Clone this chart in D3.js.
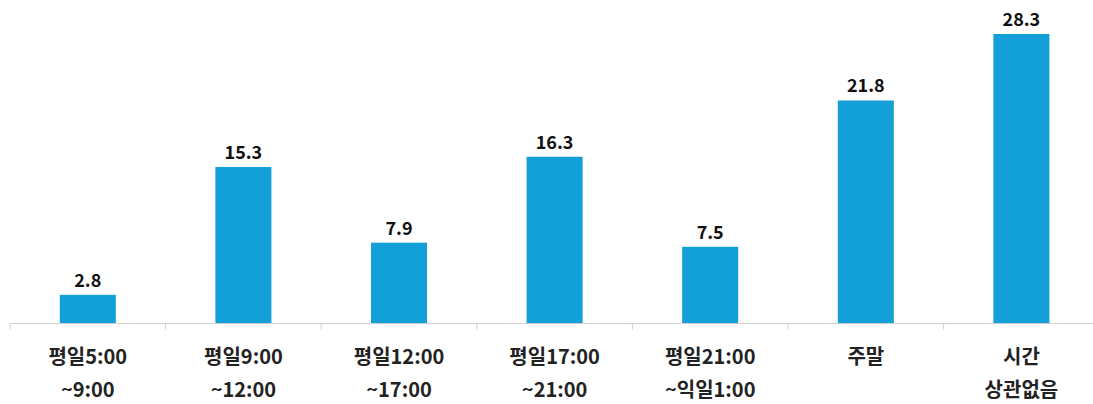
<!DOCTYPE html>
<html><head><meta charset="utf-8">
<script src="https://cdn.jsdelivr.net/npm/d3@7"></script>
<style>body{margin:0;background:#fff}svg{display:block}</style>
</head><body>
<svg id="c" width="1093" height="404"></svg>
<script>
const categories = ["평일5:00|~9:00","평일9:00|~12:00","평일12:00|~17:00","평일17:00|~21:00","평일21:00|~익일1:00","주말","시간|상관없음"];
const values = [2.8, 15.3, 7.9, 16.3, 7.5, 21.8, 28.3];
const valueLabels = ["2.8","15.3","7.9","16.3","7.5","21.8","28.3"];

const svg = d3.select("#c");
const baseY = 323.5;
const x = d3.scaleBand().domain(categories).range([10, 10 + 155.6*7]).paddingInner(0.64).paddingOuter(0.32);
const y = d3.scaleLinear().domain([0, 28.3]).range([baseY, 34]);
const font = "'Noto Sans CJK KR','Malgun Gothic',sans-serif";

// bars
svg.selectAll("rect.bar").data(values).join("rect")
  .attr("class","bar")
  .attr("x",(d,i)=>x(categories[i]))
  .attr("width",x.bandwidth())
  .attr("y",d=>y(d))
  .attr("height",d=>baseY-y(d))
  .attr("fill","#139fd7");

// axis
const step = x.step();
const axisG = svg.append("g");
axisG.append("line").attr("x1",10).attr("x2",1093).attr("y1",baseY).attr("y2",baseY)
  .attr("stroke","#d0d0d0").attr("stroke-width",1.2);
d3.range(8).forEach(k=>{
  const tx = 10 + step*k;
  axisG.append("line").attr("x1",tx).attr("x2",tx).attr("y1",baseY).attr("y2",baseY+6)
    .attr("stroke","#d0d0d0").attr("stroke-width",1);
});

// value labels
svg.selectAll("text.val").data(values).join("text")
  .attr("class","val")
  .attr("x",(d,i)=>x(categories[i])+x.bandwidth()/2)
  .attr("y",d=>y(d)-8)
  .attr("text-anchor","middle")
  .attr("font-family",font).attr("font-weight","bold").attr("font-size",18)
  .attr("fill","#111")
  .text((d,i)=>valueLabels[i]);

// category labels
categories.forEach((c,i)=>{
  const lines = c.split("|");
  const t = svg.append("text")
    .attr("x",x(c)+x.bandwidth()/2)
    .attr("text-anchor","middle")
    .attr("font-family",font).attr("font-weight","bold").attr("font-size",20)
    .attr("fill","#222");
  lines.forEach((l,j)=>{
    t.append("tspan").attr("x",x(c)+x.bandwidth()/2).attr("y",364+j*33).text(l);
  });
});
</script>
</body></html>
